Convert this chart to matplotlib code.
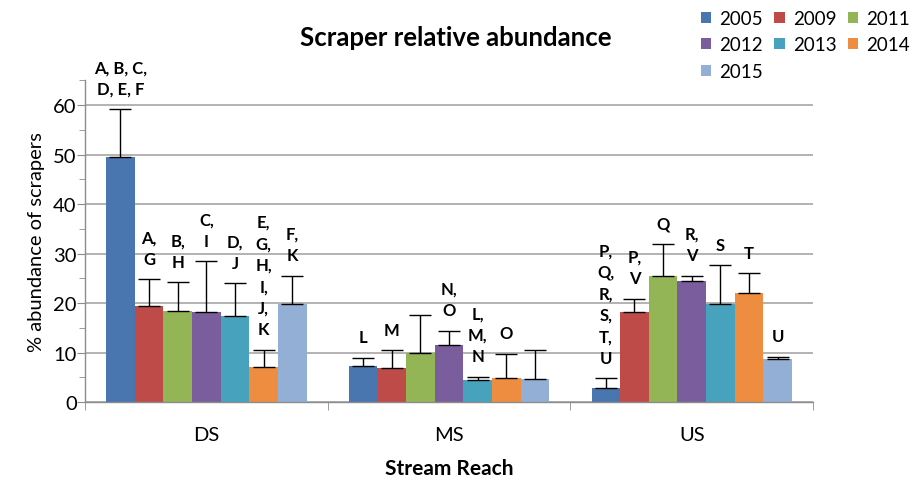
import numpy as np
import matplotlib.pyplot as plt
from matplotlib.ticker import MultipleLocator, FixedLocator, NullFormatter

plt.rcParams['font.family'] = ['Lato', 'DejaVu Sans']

reaches = ["DS", "MS", "US"]
years = ["2005", "2009", "2011", "2012", "2013", "2014", "2015"]
colors = ["#4a76b0", "#be4b48", "#93b556", "#7a5d9c", "#47a3bd", "#ee8c3f", "#94afd6"]

# mean % abundance per year, one list per reach (DS, MS, US)
abund_2005 = [49.5, 7.2, 2.8]
abund_2009 = [19.5, 6.9, 18.3]
abund_2011 = [18.5, 9.9, 25.4]
abund_2012 = [18.2, 11.6, 24.5]
abund_2013 = [17.4, 4.4, 19.8]
abund_2014 = [7.1, 4.8, 22.0]
abund_2015 = [19.8, 4.6, 8.6]

# upper error bar lengths
err_2005 = [9.7, 1.8, 2.0]
err_2009 = [5.3, 3.6, 2.6]
err_2011 = [5.7, 7.7, 6.5]
err_2012 = [10.3, 2.8, 1.0]
err_2013 = [6.6, 0.7, 7.8]
err_2014 = [3.5, 5.0, 4.0]
err_2015 = [5.7, 6.0, 0.6]

# significance letters above each bar
lab_2005 = ["A, B, C,\nD, E, F", "L", "P,\nQ,\nR,\nS,\nT,\nU"]
lab_2009 = ["A,\nG", "M", "P,\nV"]
lab_2011 = ["B,\nH", "", "Q"]
lab_2012 = ["C,\nI", "N,\nO", "R,\nV"]
lab_2013 = ["D,\nJ", "L,\nM,\nN", "S"]
lab_2014 = ["E,\nG,\nH,\nI,\nJ,\nK", "O", "T"]
lab_2015 = ["F,\nK", "", "U"]

means = [abund_2005, abund_2009, abund_2011, abund_2012, abund_2013, abund_2014, abund_2015]
errs = [err_2005, err_2009, err_2011, err_2012, err_2013, err_2014, err_2015]
labels = [lab_2005, lab_2009, lab_2011, lab_2012, lab_2013, lab_2014, lab_2015]

fig = plt.figure(figsize=(9.17, 4.85), dpi=100)
ax = fig.add_axes([0.0927, 0.169, 0.794, 0.663])

x = np.arange(len(reaches))
width = 0.118
handles = []
for k, year in enumerate(years):
    pos = x + (k - 3) * width
    up = np.array(errs[k])
    b = ax.bar(pos, means[k], width, color=colors[k], label=year, zorder=2)
    ax.errorbar(pos, means[k], yerr=[np.zeros_like(up), up], fmt='none',
                ecolor='black', elinewidth=1, capsize=8, capthick=1, zorder=3)
    handles.append(b)
    for p, m, e, t in zip(pos, means[k], up, labels[k]):
        if t:
            ax.annotate(t, xy=(p, m + e), xytext=(0, 9), textcoords='offset points',
                        ha='center', va='bottom', fontsize=12, fontweight='bold',
                        linespacing=1.42, multialignment='center')

ax.set_xlim(-0.5, 2.5)
ax.set_ylim(0, 65)
ax.yaxis.set_major_locator(FixedLocator([0, 10, 20, 30, 40, 50, 60]))
ax.yaxis.set_minor_locator(MultipleLocator(5))
ax.grid(axis='y', which='major', color='#a6a6a6', linewidth=1.2, zorder=0)
ax.set_axisbelow(True)

ax.set_xticks(x)
ax.set_xticklabels(reaches, fontsize=14.5)
ax.xaxis.set_minor_locator(FixedLocator([-0.5, 0.5, 1.5, 2.5]))
ax.xaxis.set_minor_formatter(NullFormatter())
ax.tick_params(axis='x', which='major', length=0, pad=17)
ax.tick_params(axis='x', which='minor', length=6, color='#8c8c8c', direction='out')
ax.tick_params(axis='y', which='both', color='#8c8c8c', direction='out', labelsize=14.5)
ax.tick_params(axis='y', which='major', length=6, pad=0)
ax.tick_params(axis='y', which='minor', length=4)

for s in ['top', 'right']:
    ax.spines[s].set_visible(False)
for s in ['left', 'bottom']:
    ax.spines[s].set_color('#8c8c8c')
    ax.spines[s].set_linewidth(1.0)

ax.set_ylabel("% abundance of scrapers", fontsize=14.5, labelpad=6)
ax.set_xlabel("Stream Reach", fontsize=15, fontweight='bold', labelpad=11)
fig.text(0.497, 0.922, "Scraper relative abundance", ha='center', va='center',
         fontsize=18.5, fontweight='bold')

# legend laid out row by row in three columns
order = [0, 3, 6, 1, 4, 2, 5]
fig.legend([handles[i] for i in order], [years[i] for i in order],
           loc='upper right', bbox_to_anchor=(1.011, 1.012), ncol=3, frameon=False,
           fontsize=13.5, handlelength=0.55, handleheight=0.55, handletextpad=0.43,
           columnspacing=0.62, labelspacing=0.5)

fig.savefig("out.png", dpi=100)
